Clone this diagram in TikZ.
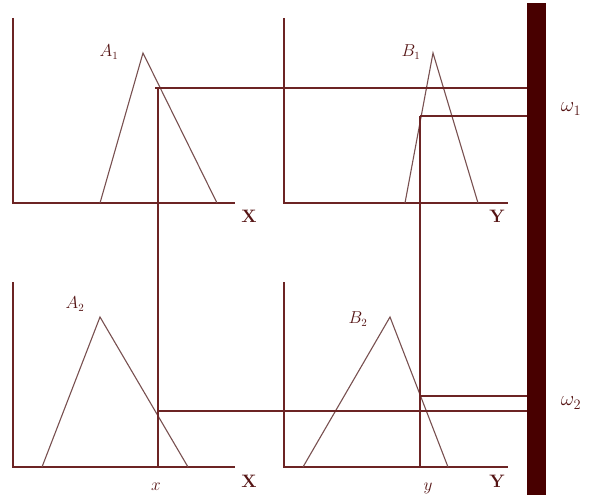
\documentclass[tikz,border=0pt]{standalone}
\definecolor{maroondark}{RGB}{72,0,0}
\definecolor{maroonline}{RGB}{108,36,36}
\definecolor{maroontri}{RGB}{120,80,80}
\definecolor{maroontext}{RGB}{85,20,20}
\usepackage{tikz}

\begin{document}
\begin{tikzpicture}[x=1pt, y=-1pt,
		axis/.style={draw=maroonline, line width=1.3pt},
		tri/.style={draw=maroontri, line width=1.1pt},
		link/.style={draw=maroonline, line width=1.2pt},
		mlab/.style={text=maroontext, inner sep=0pt, font=\fontsize{16}{18}\selectfont},
		vlab/.style={text=maroontext, inner sep=0pt, font=\fontsize{18}{20}\selectfont\bfseries},
		wlab/.style={text=maroontext, inner sep=0pt, font=\fontsize{20}{22}\selectfont}
	]
		\useasboundingbox (0,0) rectangle (592,495);
		% output bar
		\node[fill=maroondark, inner sep=0pt, outer sep=0pt,
			minimum width=19pt, minimum height=492pt] (bar) at (536.5,249) {};
		% axes
		\draw[axis] (13,18) -- (13,203) -- (235,203);
		\draw[axis] (284,18) -- (284,203) -- (508,203);
		\draw[axis] (13,282) -- (13,467) -- (235,467);
		\draw[axis] (284,282) -- (284,467) -- (508,467);
		% membership functions
		\draw[tri] (100,203) -- (143,53) -- (217,203);
		\draw[tri] (405,203) -- (433,53) -- (478,203);
		\draw[tri] (42,467) -- (100,317) -- (188,467);
		\draw[tri] (303,467) -- (390,317) -- (448,467);
		% crisp inputs and firing levels
		\coordinate (xtop) at (158,88);
		\coordinate (xbot) at (158,467);
		\coordinate (ytop) at (420,116);
		\coordinate (ybot) at (420,467);
		\draw[link] (xtop) -- (xbot);
		\draw[link] (ytop) -- (ybot);
		\draw[link] (155,88) -- (bar.west |- xtop);
		\draw[link] (ytop) -- (bar.west |- ytop);
		\draw[link] (158,411) -- (bar.west |- 0,411);
		\draw[link] (420,396) -- (bar.west |- 0,396);
		% labels
		\node[mlab] (a1) at (109,52) {$A_1$};
		\node[mlab] (b1) at (411,52) {$B_1$};
		\node[mlab] (a2) at (75,304) {$A_2$};
		\node[mlab] (b2) at (358,319) {$B_2$};
		\node[vlab] (xa1) at (249,216) {X};
		\node[vlab] (yb1) at (497,216) {Y};
		\node[vlab] (xa2) at (249,481) {X};
		\node[vlab] (yb2) at (497,481) {Y};
		\node[mlab, anchor=base] (xin) at (156,490) {$x$};
		\node[mlab, anchor=base] (yin) at (428,490) {$y$};
		\node[wlab] (w1) at (571,109) {$\omega_1$};
		\node[wlab] (w2) at (571,403) {$\omega_2$};
	\end{tikzpicture}
\end{document}
